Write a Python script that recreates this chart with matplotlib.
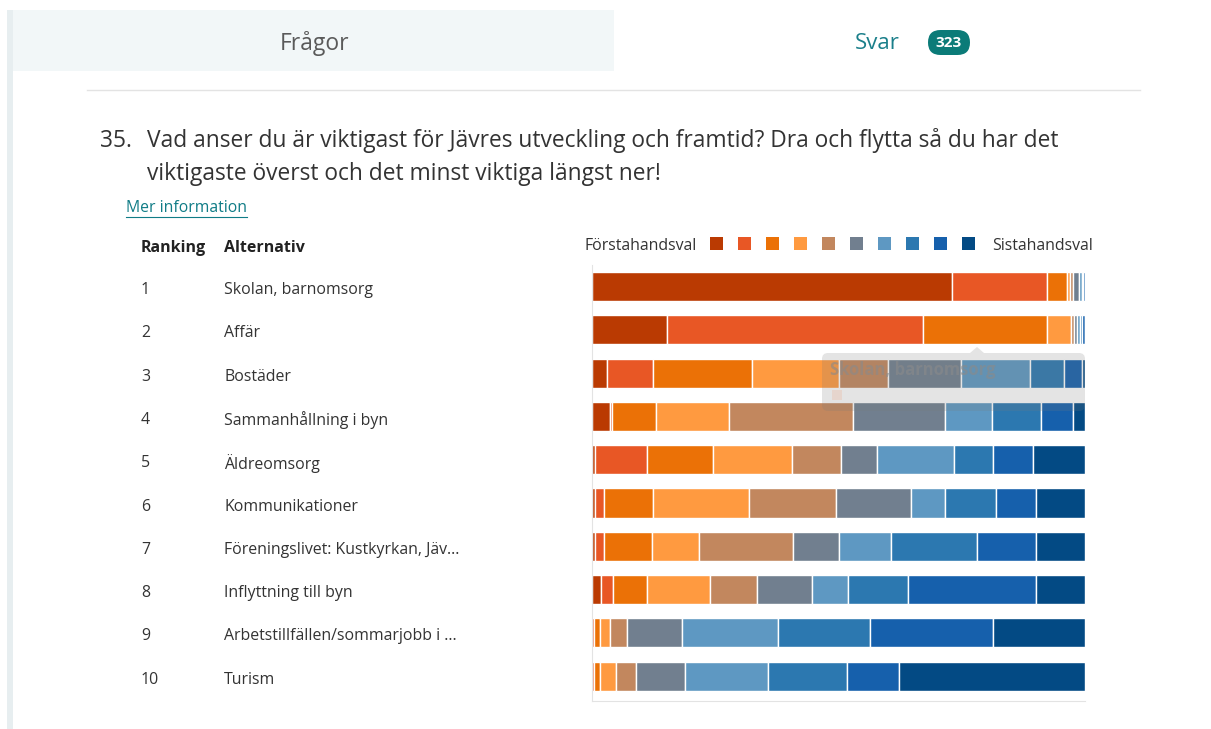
import matplotlib
matplotlib.use("Agg")
import matplotlib.pyplot as plt
from matplotlib.patches import Rectangle, FancyBboxPatch
import numpy as np

# survey data: 10 alternatives, counts per ranking position (323 answers)
ranks = ["1", "2", "3", "4", "5", "6", "7", "8", "9", "10"]
alternatives = ["Skolan, barnomsorg", "Affär", "Bostäder", "Sammanhållning i byn",
                "Äldreomsorg", "Kommunikationer", "Föreningslivet: Kustkyrkan, Jäv...",
                "Inflyttning till byn", "Arbetstillfällen/sommarjobb i ...", "Turism"]
counts = [
    [236, 62, 13, 2, 2, 4, 2, 1, 1, 0],
    [49, 168, 81, 16, 2, 2, 2, 1, 2, 0],
    [10, 30, 65, 57, 32, 48, 45, 22, 12, 2],
    [12, 1, 29, 48, 81, 60, 31, 32, 21, 8],
    [2, 34, 43, 52, 32, 24, 50, 26, 26, 34],
    [2, 6, 32, 63, 57, 49, 22, 34, 26, 32],
    [2, 6, 31, 31, 62, 30, 34, 56, 39, 32],
    [6, 8, 22, 41, 31, 36, 24, 39, 84, 32],
    [0, 1, 4, 7, 11, 36, 63, 60, 81, 60],
    [0, 1, 4, 11, 13, 32, 54, 52, 34, 122],
]
total = 323
legend_first = "Förstahandsval"
legend_last = "Sistahandsval"
colors = ['#BA3A02', '#E85725', '#EB7106', '#FF9A40', '#C2875E',
          '#717F8F', '#5E98C2', '#2C78B0', '#1660AC', '#034A84']

W, H = 1211, 729
plt.rcParams['font.family'] = ['Open Sans', 'DejaVu Sans']
fig = plt.figure(figsize=(W / 100, H / 100), dpi=100)

# background axes in pixel coordinates for the page decoration
bg = fig.add_axes([0, 0, 1, 1])
bg.set_xlim(0, W)
bg.set_ylim(H, 0)
bg.axis('off')

bg.add_patch(Rectangle((7, 10), 6, H - 10, color='#E7EEF0', lw=0))
bg.add_patch(Rectangle((13, 10), 601, 61, color='#F2F7F8', lw=0))
bg.text(315, 43.5, "Frågor", ha='center', va='center', fontsize=16.5, color='#5a5a5a')
bg.text(877, 43.5, "Svar", ha='center', va='center', fontsize=16, color='#1A7F8A')
bg.add_patch(FancyBboxPatch((928, 30), 42, 25, boxstyle="round,pad=0,rounding_size=12.5",
                            color='#0B7B78', lw=0))
bg.text(949, 43, "323", ha='center', va='center', fontsize=11, color='white',
        fontweight='bold')
bg.plot([87, 1140], [90, 90], color='#E3E3E3', lw=1)

bg.text(100, 140.5, "35.", ha='left', va='center', fontsize=16.4, color='#333333')
bg.text(147, 140.5, "Vad anser du är viktigast för Jävres utveckling och framtid? Dra och flytta så du har det",
        ha='left', va='center', fontsize=16.4, color='#333333')
bg.text(147, 173.5, "viktigaste överst och det minst viktiga längst ner!",
        ha='left', va='center', fontsize=16.4, color='#333333')
bg.text(126, 208, "Mer information", ha='left', va='center', fontsize=11.3, color='#107C86')
bg.plot([126, 247], [216.5, 216.5], color='#107C86', lw=0.8)

bg.text(141, 248, "Ranking", ha='left', va='center', fontsize=11.5, fontweight='bold',
        color='#222222')
bg.text(224, 248, "Alternativ", ha='left', va='center', fontsize=11.5, fontweight='bold',
        color='#222222')

row_y = 286.5 + 43.3 * np.arange(len(alternatives))
for r, a, yy in zip(ranks, alternatives, row_y):
    bg.text(141, yy + 3.5, r, ha='left', va='center', fontsize=11.4, color='#333333')
    bg.text(224, yy + 3.5, a, ha='left', va='center', fontsize=11.4, color='#333333')

# legend
bg.text(585, 245.5, legend_first, ha='left', va='center', fontsize=11.4, color='#333333')
for i, c in enumerate(colors):
    bg.add_patch(Rectangle((710 + 28 * i, 237), 13, 13, color=c, lw=0))
bg.text(992, 245.5, legend_last, ha='left', va='center', fontsize=11.4, color='#333333')

# stacked bar axes
x0, x1, ytop, ybot = 592, 1085, 265, 701
ax = fig.add_axes([x0 / W, 1 - ybot / H, (x1 - x0) / W, (ybot - ytop) / H])
ax.patch.set_alpha(0)
data = np.array(counts)
y = np.arange(len(alternatives))
lefts = np.zeros(len(alternatives))
for k in range(data.shape[1]):
    ax.barh(y, data[:, k], left=lefts, height=0.67, color=colors[k],
            edgecolor='white', linewidth=1)
    lefts += data[:, k]
ax.set_xlim(0, total)
ax.set_ylim((ybot - 286.5) / 43.3, (ytop - 286.5) / 43.3)
ax.set_xticks([])
ax.set_yticks([])
for s in ['top', 'right']:
    ax.spines[s].set_visible(False)
ax.spines['left'].set_color('#E3E3E3')
ax.spines['bottom'].set_color('#E3E3E3')

# faded tooltip overlay on top of the bars
top = fig.add_axes([0, 0, 1, 1])
top.set_xlim(0, W)
top.set_ylim(H, 0)
top.axis('off')
top.patch.set_alpha(0)
top.add_patch(FancyBboxPatch((822, 353), 263, 58, boxstyle="round,pad=0,rounding_size=6",
                             color='#7a7a7a', alpha=0.2, lw=0))
top.add_patch(plt.Polygon([[970, 353], [977, 347], [984, 353]], color='#7a7a7a',
                          alpha=0.2, lw=0))
top.text(830, 370, "Skolan, barnomsorg", ha='left', va='center', fontsize=12,
         fontweight='bold', color='#8a8a8a', alpha=0.6)
top.add_patch(Rectangle((832, 390), 10, 10, color='#E8C8B8', alpha=0.5, lw=0))

fig.savefig("out.png", dpi=100)
